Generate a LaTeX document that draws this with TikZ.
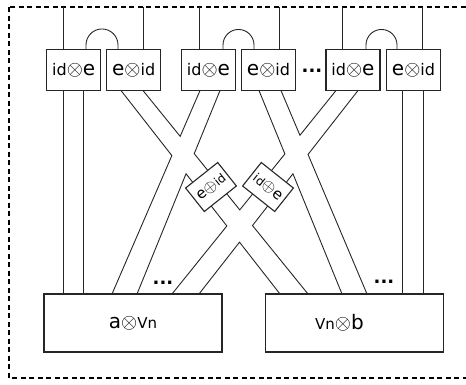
\documentclass[tikz,border=0pt]{standalone}
\usepackage{fontspec}
\setmainfont{DejaVu Sans}
\usetikzlibrary{positioning}

\newcommand{\bigletter}[1]{{\fontsize{20}{20}\selectfont #1}}
\newcommand{\otm}{{\fontsize{20}{20}\selectfont$\otimes$}}
\newcommand{\botm}{{\fontsize{22}{22}\selectfont$\otimes$}}
\newcommand{\opm}{{\fontsize{16}{16}\selectfont$\oplus$}}
\newcommand{\crosspt}[3]{\coordinate (#1) at (intersection of #2t--#2b and #3t--#3b);}

\begin{document}
\begin{tikzpicture}[
  x=1pt, y=-1pt,
  wire/.style={line width=0.9pt, black!85},
  gatebox/.style={draw=black!85, line width=1.1pt, fill=white, inner sep=0pt,
                  minimum width=54pt, minimum height=41pt,
                  font=\fontsize{16}{18}\selectfont},
  basebox/.style={gatebox, minimum width=178pt, minimum height=58pt,
                  font=\fontsize{15}{18}\selectfont},
  tiltbox/.style={gatebox, minimum width=41pt, minimum height=30pt,
                  font=\fontsize{12}{13}\selectfont},
  dots/.style={font=\fontsize{18}{18}\selectfont\bfseries, inner sep=0pt, anchor=base},
]
\useasboundingbox (0,0) rectangle (466,384);
\clip (0,0) rectangle (466,384);
\draw[line width=2pt, dash pattern=on 5pt off 3.5pt] (9,7) rectangle (474,378);
\coordinate (rim) at (0,7);

% strip ends
\coordinate (L2t) at (121,90.5); \coordinate (L2b) at (280,294);
\coordinate (R2t) at (143,90.5); \coordinate (R2b) at (308,294);
\coordinate (L3t) at (200,90.5); \coordinate (L3b) at (112,294);
\coordinate (R3t) at (220,90.5); \coordinate (R3b) at (137,294);
\coordinate (L4t) at (259,90.5); \coordinate (L4b) at (342,294);
\coordinate (R4t) at (281,90.5); \coordinate (R4b) at (367,294);
\coordinate (L5t) at (336,90.5); \coordinate (L5b) at (172,294);
\coordinate (R5t) at (358,90.5); \coordinate (R5b) at (199,294);

% crossings
\crosspt{aV}{R2}{L3} \crosspt{aL}{L2}{L3} \crosspt{aR}{R2}{R3} \crosspt{aA}{L2}{R3}
\crosspt{bV}{R4}{L5} \crosspt{bL}{L4}{L5} \crosspt{bR}{R4}{R5} \crosspt{bA}{L4}{R5}
\crosspt{cV}{R2}{L5} \crosspt{cL}{L2}{L5} \crosspt{cR}{R2}{R5} \crosspt{cA}{L2}{R5}

\draw[wire] (L2t) -- (aL) -- (L3b);
\draw[wire] (R2t) -- (aV) -- (L3t);
\draw[wire] (R3t) -- (aR) -- (cV) -- (bL) -- (L4t);
\draw[wire] (R3b) -- (aA) -- (cL) -- (L5b);
\draw[wire] (R4t) -- (bV) -- (L5t);
\draw[wire] (R5t) -- (bR) -- (R4b);
\draw[wire] (L4b) -- (bA) -- (cR) -- (R2b);
\draw[wire] (R5b) -- (cA) -- (L2b);

% top row
\node[gatebox] (g1) at (73.7,70) {id\otm\bigletter{e}};
\node[gatebox] (g2) at (133.7,70) {\bigletter{e}\otm id};
\node[gatebox] (g3) at (208.5,70) {id\otm\bigletter{e}};
\node[gatebox] (g4) at (268.5,70) {\bigletter{e}\otm id};
\node[gatebox] (g5) at (353,70) {id\otm\bigletter{e}};
\node[gatebox] (g6) at (413.5,70) {\bigletter{e}\otm id};
\node[dots] (d1) at (312,72.8) {...};

% bottom row
\node[basebox] (m1) at (133,323) {\bigletter{a}\botm Vn};
\node[basebox] (m2) at (354.5,323) {Vn\botm\bigletter{b}\hspace*{30pt}};
\node[dots] (d2) at (163,284.8) {...};
\node[dots] (d3) at (384,283.8) {...};

% tilted boxes
\node[tiltbox, rotate=38.5] (t1) at (211,187) {{\fontsize{15}{15}\selectfont e}\opm id};
\node[tiltbox, rotate=-38.5] (t2) at (268,187) {id\opm{\fontsize{15}{15}\selectfont e}};

% wires to the rim
\foreach \x/\g in {63/g1, 143/g2, 199/g3, 279/g4, 342/g5, 422/g6}{
  \coordinate (w) at (\x,0);
  \draw[wire] (\g.north -| w) -- (rim -| w);
}
% caps
\foreach \x/\r/\g in {86/16/g1, 223/15.5/g3, 366/15.5/g5}{
  \coordinate (w) at (\x,0);
  \draw[wire] (\g.north -| w) -- ++(0,-4) arc[start angle=180, end angle=360, radius=\r] -- ++(0,4);
}
% straight legs
\foreach \x/\g/\m in {63/g1/m1, 83/g1/m1, 402/g6/m2, 423/g6/m2}{
  \coordinate (w) at (\x,0);
  \draw[wire] (\g.south -| w) -- (\m.north -| w);
}
\end{tikzpicture}
\end{document}
